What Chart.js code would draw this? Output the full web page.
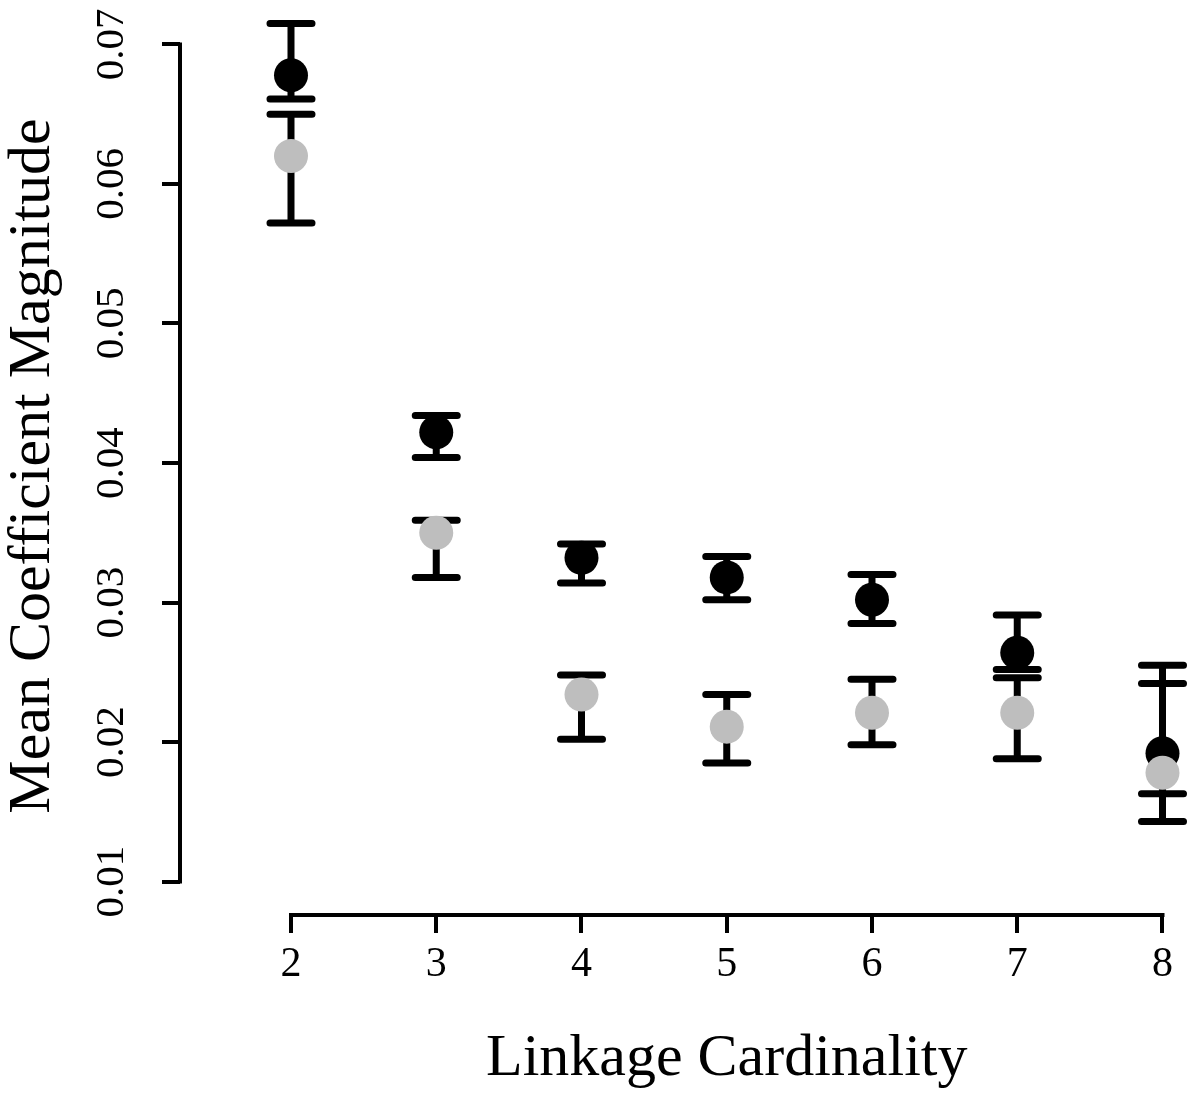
<!DOCTYPE html>
<html>
<head>
<meta charset="utf-8">
<script src="https://cdn.jsdelivr.net/npm/chart.js@4"></script>
<style>
  html, body { margin: 0; padding: 0; background: #fff; }
  #wrap { width: 1200px; height: 1098px; }
</style>
</head>
<body>
<div id="wrap"><canvas id="chart" width="1200" height="1098"></canvas></div>
<script>
// linkage cardinality on x
const xValues = [2, 3, 4, 5, 6, 7, 8]
const yTicks = [0.01, 0.02, 0.03, 0.04, 0.05, 0.06, 0.07]

// black series: mean and interval
const blackMean = [0.0678, 0.0422, 0.0332, 0.0318, 0.0302, 0.0264, 0.0192]
const blackLow = [0.0661, 0.0404, 0.0314, 0.0302, 0.0285, 0.0252, 0.0163]
const blackHigh = [0.0715, 0.0434, 0.0342, 0.0333, 0.0320, 0.0291, 0.0255]

// grey series
const grayMean = [0.0620, 0.0350, 0.0234, 0.0211, 0.0221, 0.0221, 0.0178]
const grayLow = [0.0572, 0.0318, 0.0202, 0.0185, 0.0198, 0.0188, 0.0143]
const grayHigh = [0.0650, 0.0359, 0.0248, 0.0234, 0.0245, 0.0246, 0.0242]

const serif = '"Liberation Serif", "DejaVu Serif", serif'

const toPoints = (ys) => xValues.map((x, i) => ({ x: x, y: ys[i] }))

// error bars go under the points
const errorBars = {
    id: 'errorBars',
    beforeDatasetsDraw(chart) {
        const { ctx, scales: { x, y } } = chart
        const sets = [[blackLow, blackHigh], [grayLow, grayHigh]]
        ctx.save()
        ctx.strokeStyle = '#000'
        ctx.lineWidth = 7
        ctx.lineCap = 'round'
        sets.forEach(([lo, hi]) => {
            xValues.forEach((xv, i) => {
                const px = x.getPixelForValue(xv)
                const top = y.getPixelForValue(hi[i])
                const bot = y.getPixelForValue(lo[i])
                ctx.beginPath()
                ctx.moveTo(px, top)
                ctx.lineTo(px, bot)
                ctx.moveTo(px - 21, top)
                ctx.lineTo(px + 21, top)
                ctx.moveTo(px - 21, bot)
                ctx.lineTo(px + 21, bot)
                ctx.stroke()
            })
        })
        ctx.restore()
    }
}

// R style axes: line only over the tick range, x title centred on the ticks
const axisLines = {
    id: 'axisLines',
    afterDraw(chart) {
        const { ctx, chartArea, scales: { x, y } } = chart
        ctx.save()
        ctx.strokeStyle = '#000'
        ctx.lineWidth = 4
        ctx.lineCap = 'square'
        ctx.beginPath()
        ctx.moveTo(chartArea.left, y.getPixelForValue(yTicks[0]))
        ctx.lineTo(chartArea.left, y.getPixelForValue(yTicks[yTicks.length - 1]))
        ctx.moveTo(x.getPixelForValue(xValues[0]), chartArea.bottom)
        ctx.lineTo(x.getPixelForValue(xValues[xValues.length - 1]), chartArea.bottom)
        ctx.stroke()

        const cx = (x.getPixelForValue(xValues[0]) + x.getPixelForValue(xValues[xValues.length - 1])) / 2
        ctx.fillStyle = '#000'
        ctx.font = '60px ' + serif
        ctx.textAlign = 'center'
        ctx.textBaseline = 'alphabetic'
        ctx.fillText('Linkage Cardinality', cx, 1075)
        ctx.restore()
    }
}

new Chart(document.getElementById('chart'), {
    type: 'scatter',
    data: {
        datasets: [
            {
                label: 'grey',
                data: toPoints(grayMean),
                backgroundColor: '#bebebe',
                borderWidth: 0,
                pointRadius: 17,
                pointHoverRadius: 17,
                clip: false,
                order: 0
            },
            {
                label: 'black',
                data: toPoints(blackMean),
                backgroundColor: '#000',
                borderWidth: 0,
                pointRadius: 17,
                pointHoverRadius: 17,
                clip: false,
                order: 1
            }
        ]
    },
    options: {
        responsive: false,
        animation: false,
        layout: { padding: { left: 0, top: 4, right: 20, bottom: 0 } },
        plugins: {
            legend: { display: false },
            tooltip: { enabled: false }
        },
        scales: {
            x: {
                type: 'linear',
                min: 1.2358,
                max: 8.1205,
                afterBuildTicks: (s) => { s.ticks = xValues.map(v => ({ value: v })) },
                afterFit: (s) => {
                    s.height = 183
                    s.paddingLeft = 0
                    s.paddingRight = 0
                },
                border: { display: false },
                grid: { drawOnChartArea: false, drawTicks: true, tickLength: 18, lineWidth: 4, color: '#000' },
                ticks: {
                    color: '#000',
                    padding: 7,
                    maxRotation: 0,
                    font: { family: serif, size: 42 },
                    callback: (v) => String(v)
                }
            },
            y: {
                type: 'linear',
                min: 0.0076,
                max: 0.07197,
                afterBuildTicks: (s) => { s.ticks = yTicks.map(v => ({ value: v })) },
                afterFit: (s) => {
                    s.width = 180
                    s.paddingTop = 0
                    s.paddingBottom = 0
                },
                border: { display: false },
                grid: { drawOnChartArea: false, drawTicks: true, tickLength: 18, lineWidth: 4, color: '#000' },
                ticks: {
                    color: '#000',
                    padding: 14,
                    minRotation: 90,
                    maxRotation: 90,
                    crossAlign: 'center',
                    font: { family: serif, size: 41 },
                    callback: (v) => v.toFixed(2)
                },
                title: {
                    display: true,
                    text: 'Mean Coefficient Magnitude',
                    color: '#000',
                    padding: { top: 3, bottom: 0 },
                    font: { family: serif, size: 60, lineHeight: 1 }
                }
            }
        }
    },
    plugins: [errorBars, axisLines]
})
</script>
</body>
</html>
